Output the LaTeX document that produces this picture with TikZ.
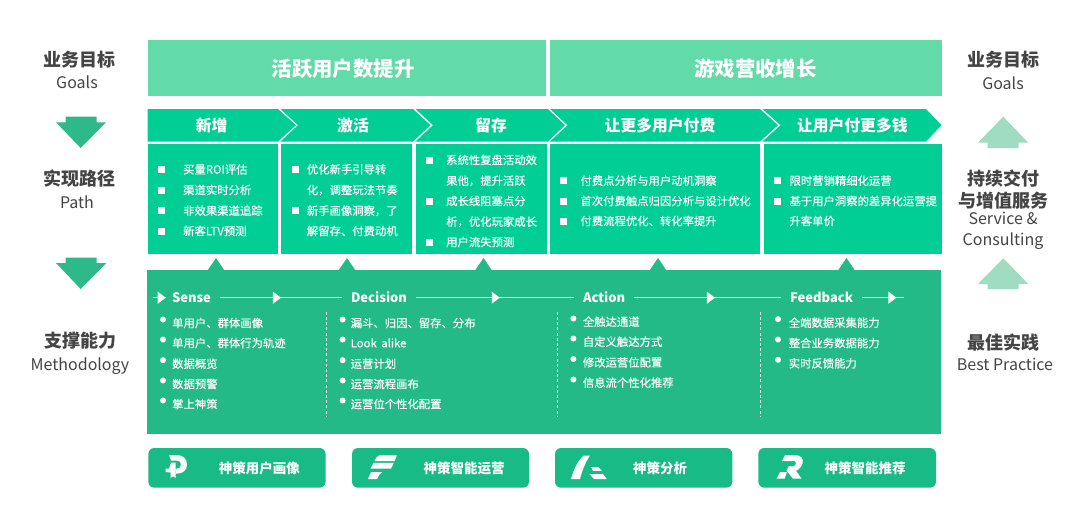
\documentclass[tikz,border=0pt]{standalone}
\usepackage{fontspec}
\setmainfont{Noto Sans CJK SC}
\newfontfamily\medf[FakeBold=0.25]{Noto Sans CJK SC}
\usetikzlibrary{arrows.meta,decorations.markings}
\definecolor{banner}{HTML}{62DBA9}
\definecolor{chev}{HTML}{00CE95}
\definecolor{panel}{HTML}{23BA87}
\definecolor{btn}{HTML}{18BB85}
\definecolor{downa}{HTML}{2DB98A}
\definecolor{upa}{HTML}{9FDCC2}
\definecolor{ink}{HTML}{444444}
\tikzset{
  x=1pt,y=-1pt,
  lab/.style={inner sep=0pt,text height=.88*#1 pt,text depth=.12*#1 pt},
  lat/.style={inner sep=0pt,text height=.88*#1 pt,text depth=.16*#1 pt},
  zh/.style={lab=18,text=ink,font=\fontsize{18}{20}\selectfont\bfseries},
  en/.style={lat=16,text=ink,font=\fontsize{16}{18}\selectfont},
  big/.style={lab=20.4,text=white,font=\fontsize{20.4}{22}\selectfont\bfseries},
  chevt/.style={lab=15.8,text=white,font=\fontsize{15.8}{18}\selectfont\bfseries},
  item/.style={lab=11.35,anchor=west,text=white,font=\fontsize{11.35}{13}\medf},
  flowt/.style={lat=13,text=white,font=\fontsize{13}{16}\selectfont\bfseries,anchor=west,outer xsep=9pt},
  btnbox/.style={fill=btn,rounded corners=6pt},
  btnt/.style={lab=13.5,text=white,font=\fontsize{13.5}{16}\selectfont\bfseries},
  flow/.style={draw=white!90!panel,line width=.9pt,postaction={decorate},
    decoration={markings,mark=at position #1 with {\arrow{Triangle[length=8pt,width=12pt,fill=white]}}}},
  vdashline/.style={draw=white!90!panel,line width=.8pt,dash pattern=on 3pt off 2.2pt},
}
\newcommand{\bsq}[2]{\fill[white] (#1-3.5,#2-3.5) rectangle (#1+3.5,#2+3.5);}
\newcommand{\bdot}[2]{\fill[white] (#1,#2-3.5) circle (3pt);}
\begin{document}
\begin{tikzpicture}
\useasboundingbox (0,0) rectangle (1080,523);
\fill[white] (0,0) rectangle (1080,523);
% banners
\fill[banner] (147.5,39.5) rectangle (546,96);
\fill[banner] (549.5,39.5) rectangle (941.5,96);
\node[big] (b1) at (343,69) {活跃用户数提升};
\node[big] (b2) at (755.5,68.5) {游戏营收增长};
% chevrons
\fill[chev] (147.5,109) -- (278,109) -- (296,125.2) -- (278,141.5) -- (147.5,141.5) -- cycle;
\fill[chev] (280.5,109) -- (413,109) -- (430.5,125.2) -- (413,141.5) -- (280.5,141.5) -- (298,125.2) -- cycle;
\fill[chev] (415.5,109) -- (548,109) -- (565,125.2) -- (548,141.5) -- (415.5,141.5) -- (433,125.2) -- cycle;
\fill[chev] (550,109) -- (760,109) -- (778,125.2) -- (760,141.5) -- (550,141.5) -- (567.5,125.2) -- cycle;
\fill[chev] (762.5,109) -- (926,109) -- (941.5,125.2) -- (926,141.5) -- (762.5,141.5) -- (780.5,125.2) -- cycle;
\node[chevt] (c1) at (211.7,125.7) {新增};
\node[chevt] (c2) at (353,125.7) {激活};
\node[chevt] (c3) at (491,125.7) {留存};
\node[chevt] (c4) at (660,125.7) {让更多用户付费};
\node[chevt] (c5) at (852.3,125.7) {让用户付更多钱};
% boxes
\fill[chev] (147.5,143.5) rectangle (277.5,254);
\fill[chev] (281,143.5) rectangle (412.3,254);
\fill[chev] (415.7,143.5) rectangle (546.7,254);
\fill[chev] (550,143.5) rectangle (760,254);
\fill[chev] (764,143.5) rectangle (941.5,254);
% box 1
\bsq{161.3}{169.3}\bsq{161.3}{190}\bsq{161.3}{210.7}\bsq{161.3}{231}
\node[item] (a1) at (183,169.3) {买量ROI评估};
\node[item] (a2) at (183,190) {渠道实时分析};
\node[item] (a3) at (183,210.7) {非效果渠道追踪};
\node[item] (a4) at (183,231) {新客LTV预测};
% box 2
\bsq{295}{169.3}\bsq{295}{210.7}
\node[item] (d1) at (306.7,169.3) {优化新手引导转};
\node[item] (d2) at (306.7,190) {化，调整玩法节奏};
\node[item] (d3) at (306.7,210.7) {新手画像洞察，了};
\node[item] (d4) at (306.7,231) {解留存、付费动机};
% box 3
\bsq{429.3}{160}\bsq{429.3}{201}\bsq{429.3}{242}
\node[item] (e1) at (446,160) {系统性复盘活动效};
\node[item] (e2) at (446,180.7) {果他，提升活跃};
\node[item] (e3) at (446,201) {成长线阻塞点分};
\node[item] (e4) at (446,221.7) {析，优化玩家成长};
\node[item] (e5) at (446,242) {用户流失预测};
% box 4
\bsq{563.7}{180.7}\bsq{563.7}{201}\bsq{563.7}{221}
\node[item] (f1) at (580.3,180.7) {付费点分析与用户动机洞察};
\node[item] (f2) at (580.3,201) {首次付费触点归因分析与设计优化};
\node[item] (f3) at (580.3,221) {付费流程优化、转化率提升};
% box 5
\bsq{777.7}{180.7}\bsq{777.7}{201}
\node[item] (g1) at (789.3,180.7) {限时营销精细化运营};
\node[item] (g2) at (789.3,201) {基于用户洞察的差异化运营提};
\node[item] (g3) at (789.3,221) {升客单价};
% panel
\fill[panel] (147,270) rectangle (941,434);
\foreach \tx in {216,347,483.5,658,846.5}
  \fill[panel] (\tx-8.5,270.5) -- (\tx,258) -- (\tx+8.5,270.5) -- cycle;
% flow
\coordinate (fs) at (153,297.7);
\coordinate (fe) at (904,297.7);
\node[flowt] (sense) at (163,297.7) {Sense};
\node[flowt] (decision) at (342,297.7) {Decision};
\node[flowt] (action) at (574,297.7) {Action};
\node[flowt] (feedback) at (781,297.7) {Feedback};
\path[flow=.98] (fs) -- ([xshift=3pt]sense.west);
\path[flow=.5] (sense.east) -- (decision.west);
\path[flow=.53] (decision.east) -- (action.west);
\path[flow=.55] (action.east) -- (feedback.west);
\path[flow=.82] (feedback.east) -- (fe);
% dashed
\coordinate (v1a) at (326,311.7); \coordinate (v1b) at (326,416.7);
\coordinate (v2a) at (557,311.7); \coordinate (v2b) at (557,416.7);
\coordinate (v3a) at (760.4,311.7); \coordinate (v3b) at (760.4,416.7);
\draw[vdashline] (v1a) -- (v1b);
\draw[vdashline] (v2a) -- (v2b);
\draw[vdashline] (v3a) -- (v3b);
% sense
\bdot{163}{323}\bdot{163}{343}\bdot{163}{363.7}\bdot{163}{384}\bdot{163}{404}
\node[item] (s1) at (172,323) {单用户、群体画像};
\node[item] (s2) at (172,343) {单用户、群体行为轨迹};
\node[item] (s3) at (172,363.7) {数据概览};
\node[item] (s4) at (172,384) {数据预警};
\node[item] (s5) at (172,404) {掌上神策};
% decision
\bdot{342.6}{323}\bdot{342.6}{343}\bdot{342.6}{363.7}\bdot{342.6}{384}\bdot{342.6}{404}
\node[item] (t1) at (350.5,323) {漏斗、归因、留存、分布};
\node[item] (t2) at (350.5,343) {Look\hspace{2pt} alike};
\node[item] (t3) at (350.5,363.7) {运营计划};
\node[item] (t4) at (350.5,384) {运营流程画布};
\node[item] (t5) at (350.5,404) {运营位个性化配置};
% action
\bdot{573.4}{322}\bdot{573.4}{342}\bdot{573.4}{362.5}\bdot{573.4}{383}
\node[item] (u1) at (582.7,321.7) {全触达通道};
\node[item] (u2) at (582.7,341.7) {自定义触达方式};
\node[item] (u3) at (582.7,362.3) {修改运营位配置};
\node[item] (u4) at (582.7,382.7) {信息流个性化推荐};
% feedback
\bdot{778}{322.7}\bdot{778}{343}\bdot{778}{363.3}
\node[item] (w1) at (788.6,322.7) {全端数据采集能力};
\node[item] (w2) at (788.6,343) {整合业务数据能力};
\node[item] (w3) at (788.6,363.3) {实时反馈能力};
% buttons
\fill[btnbox] (148.3,448) rectangle (325.6,487.7);
\fill[btnbox] (352,448) rectangle (529,487.7);
\fill[btnbox] (555,448) rectangle (732.3,487.7);
\fill[btnbox] (758.3,448) rectangle (936,487.7);
\node[btnt] (p1) at (259.3,468) {神策用户画像};
\node[btnt] (p2) at (464,468) {神策智能运营};
\node[btnt] (p3) at (660,468) {神策分析};
\node[btnt] (p4) at (865,468) {神策智能推荐};
% logo P
\fill[white] (169,455) -- (177,455) .. controls (183,455) and (187,459) .. (187,464.5) .. controls (187,470) and (183,473.5) .. (177.5,473.5) -- (175.5,473.5) -- (175.5,468.5) -- (177,468.5) .. controls (179.5,468.5) and (181,467) .. (181,464.5) .. controls (181,462) and (179.5,460.5) .. (177,460.5) -- (171,460.5) -- cycle;
\fill[white] (171,462.5) -- (175.5,462.5) -- (175.5,478) -- (173.3,476.3) -- (170.5,478) -- (170.5,472.5) -- (165.5,472) -- (165.5,468.5) -- (169,468.5) -- cycle;
% logo F
\fill[white] (379,455.3) -- (397,455.3) -- (394.5,461) -- (374.5,461) .. controls (375.5,458.5) and (377,456.5) .. (379,455.3) -- cycle;
\fill[white] (373.5,462.8) -- (393.8,462.8) -- (391,468.7) -- (370.5,468.7) -- cycle;
\fill[white] (371,472) -- (382,472) .. controls (379.5,474) and (378,476.5) .. (377,479) -- (368,479) -- cycle;
% logo A
\fill[white] (571,479) .. controls (574,468) and (579,459) .. (584,455.5) -- (590,455.5) .. controls (585,463) and (582,471) .. (580,479) -- cycle;
\fill[white] (591,467) -- (598,467) -- (602,470.8) -- (593,470.8) -- cycle;
\fill[white] (589.5,474) -- (603,474) -- (606.7,479) -- (594,479) -- cycle;
% logo R
\fill[white] (785,455) -- (795,455) .. controls (801,455) and (804,459) .. (802.5,463.5) .. controls (801,468) and (798,470) .. (796,470.8) -- (801.5,478.7) -- (793,478.7) -- (786.5,470.5) -- (789,466) -- (791.5,466.5) .. controls (795,466.5) and (796.5,464) .. (796,462.5) .. controls (795.5,461) and (794.5,461) .. (793,461) -- (782,461) -- cycle;
\fill[white] (780,472) -- (787,472) -- (784.5,478.7) -- (776.7,478.7) -- cycle;
% arrows
\fill[downa] (65.7,116.7) -- (96.7,116.7) -- (96.7,122.3) -- (106,122.3) -- (80.7,148) -- (56,122.3) -- (65.7,122.3) -- cycle;
\fill[downa] (65.7,257.7) -- (96.7,257.7) -- (96.7,263) -- (106.4,263) -- (80.7,289) -- (56,263) -- (65.7,263) -- cycle;
\fill[upa] (1003.3,116.7) -- (1028.3,142.7) -- (1018.7,142.7) -- (1018.7,148) -- (987.7,148) -- (987.7,142.7) -- (978,142.7) -- cycle;
\fill[upa] (1003.3,258.3) -- (1028.3,284) -- (1018.7,284) -- (1018.7,289) -- (987.7,289) -- (987.7,284) -- (978,284) -- cycle;
% left
\node[zh] (l1) at (79,60) {业务目标};
\node[en] (l1e) at (77,83) {Goals};
\node[zh] (l2) at (79,179) {实现路径};
\node[en] (l2e) at (77,202.3) {Path};
\node[zh] (l3) at (80,341) {支撑能力};
\node[en] (l3e) at (80,364.3) {Methodology};
% right
\node[zh] (r1) at (1003,60) {业务目标};
\node[en] (r1e) at (1003,83.3) {Goals};
\node[zh] (r2) at (1003,179) {持续交付};
\node[zh] (r2b) at (1003,200.7) {与增值服务};
\node[en] (r2c) at (1003,219) {Service \&};
\node[en] (r2d) at (1003,240) {Consulting};
\node[zh] (r3) at (1003,343) {最佳实践};
\node[en] (r3e) at (1005,364.3) {Best Practice};
\end{tikzpicture}
\end{document}
